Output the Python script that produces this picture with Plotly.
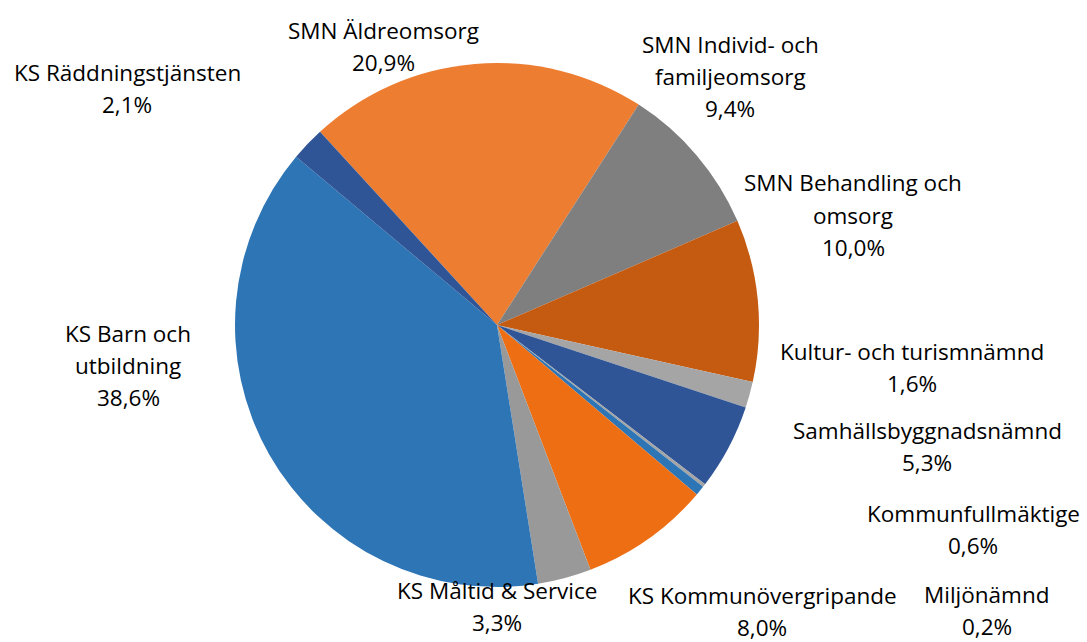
import plotly.graph_objects as go

# Data (clockwise order starting with SMN Äldreomsorg)
categories = [
    "SMN Äldreomsorg",
    "SMN Individ- och familjeomsorg",
    "SMN Behandling och omsorg",
    "Kultur- och turismnämnd",
    "Samhällsbyggnadsnämnd",
    "Miljönämnd",
    "Kommunfullmäktige",
    "KS Kommunövergripande",
    "KS Måltid & Service",
    "KS Barn och utbildning",
    "KS Räddningstjänsten",
]
values = [20.9, 9.4, 10.0, 1.6, 5.3, 0.2, 0.6, 8.0, 3.3, 38.6, 2.1]

# Label text as wrapped in the reference
label_lines = [
    ["SMN Äldreomsorg"],
    ["SMN Individ- och", "familjeomsorg"],
    ["SMN Behandling och", "omsorg"],
    ["Kultur- och turismnämnd"],
    ["Samhällsbyggnadsnämnd"],
    ["Miljönämnd"],
    ["Kommunfullmäktige"],
    ["KS Kommunövergripande"],
    ["KS Måltid & Service"],
    ["KS Barn och", "utbildning"],
    ["KS Räddningstjänsten"],
]

# Styling / layout (not data)
colors = ["#ED7D31", "#7F7F7F", "#C55A11", "#A5A5A5", "#2F5597", "#A5A5A5",
          "#2E75B6", "#EE6E14", "#999999", "#2E75B6", "#2F5597"]
# label block positions: (center x px, center y px of first line)
label_pos = [(383, 30), (730, 45), (853, 183), (912, 352), (927, 430),
             (987, 594), (973, 513), (762, 595), (497, 590), (128, 333), (127, 72)]
LINE_H = 32
W, H = 1087, 642
FONT = dict(family="Open Sans, Lato, sans-serif", size=22.5, color="#000000")

cx, cy, r = 497, 325, 262
fig = go.Figure(go.Pie(
    labels=categories,
    values=values,
    sort=False,
    direction="clockwise",
    rotation=-42.5,
    marker=dict(colors=colors, line=dict(width=0)),
    textinfo="none",
    hoverinfo="label+percent",
    showlegend=False,
    domain=dict(x=[(cx - r) / W, (cx + r) / W], y=[(H - cy - r) / H, (H - cy + r) / H]),
))

total = sum(values)
annotations = []
for lines, v, (px, py) in zip(label_lines, values, label_pos):
    pct = f"{v / total * 100:.1f}".replace(".", ",") + "%"
    for i, t in enumerate(lines + [pct]):
        annotations.append(dict(
            x=px / W, y=1 - (py + i * LINE_H) / H, xref="paper", yref="paper",
            text=t, showarrow=False, xanchor="center", yanchor="middle", font=FONT,
        ))

fig.update_layout(
    width=W, height=H,
    margin=dict(l=0, r=0, t=0, b=0),
    paper_bgcolor="white", plot_bgcolor="white",
    annotations=annotations,
)

fig.write_html("out.html", config={"displayModeBar": False},
               post_script="document.body.style.margin='0';document.body.style.overflow='hidden';")
